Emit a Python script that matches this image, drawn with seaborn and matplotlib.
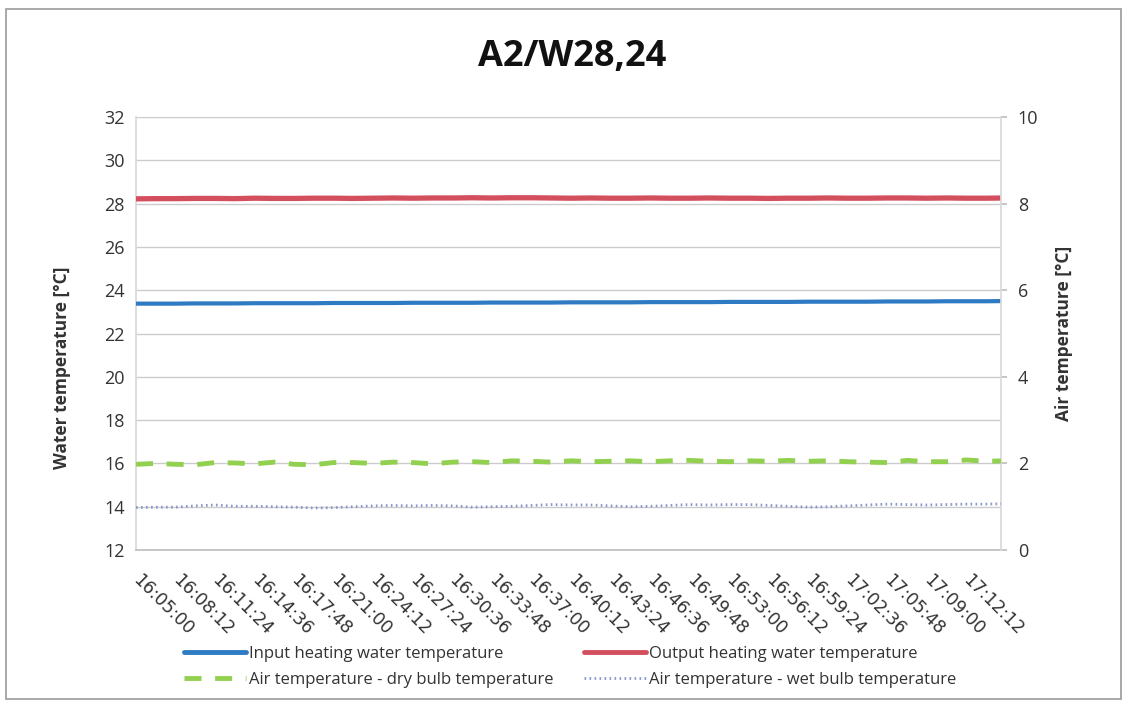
import matplotlib
matplotlib.use("Agg")
import matplotlib.pyplot as plt
import matplotlib.transforms as mtransforms
import seaborn as sns
import numpy as np
import pandas as pd
from matplotlib.lines import Line2D
from matplotlib.patches import Rectangle

sns.set_theme(style="white")
plt.rcParams['font.family'] = ['Open Sans', 'DejaVu Sans']

# ---- data ----
title = "A2/W28,24"
tick_labels = ["16:05:00", "16:08:12", "16:11:24", "16:14:36", "16:17:48", "16:21:00",
               "16:24:12", "16:27:24", "16:30:36", "16:33:48", "16:37:00", "16:40:12",
               "16:43:24", "16:46:36", "16:49:48", "16:53:00", "16:56:12", "16:59:24",
               "17:02:36", "17:05:48", "17:09:00", "17:12:12"]
sample_step_s = 96  # seconds between samples
input_water = [23.38, 23.38, 23.38, 23.39, 23.39, 23.39, 23.40, 23.40, 23.40, 23.40,
               23.41, 23.41, 23.41, 23.41, 23.42, 23.42, 23.42, 23.42, 23.43, 23.43,
               23.43, 23.43, 23.44, 23.44, 23.44, 23.44, 23.45, 23.45, 23.45, 23.45,
               23.46, 23.46, 23.46, 23.46, 23.47, 23.47, 23.47, 23.47, 23.48, 23.48,
               23.48, 23.49, 23.49, 23.49, 23.50, 23.50]
output_water = [28.22, 28.23, 28.23, 28.24, 28.24, 28.23, 28.25, 28.24, 28.24, 28.25,
                28.25, 28.24, 28.25, 28.26, 28.25, 28.26, 28.26, 28.27, 28.26, 28.27,
                28.27, 28.26, 28.25, 28.26, 28.25, 28.25, 28.26, 28.25, 28.25, 28.26,
                28.25, 28.25, 28.24, 28.25, 28.25, 28.26, 28.25, 28.25, 28.26, 28.26,
                28.25, 28.26, 28.25, 28.25, 28.26, 28.25]
air_dry = [1.98, 2.00, 1.98, 1.97, 2.02, 2.01, 1.99, 2.03, 1.98, 1.97,
           2.02, 2.02, 2.00, 2.03, 2.02, 1.99, 2.03, 2.04, 2.02, 2.06,
           2.05, 2.03, 2.06, 2.04, 2.05, 2.06, 2.04, 2.06, 2.07, 2.05,
           2.04, 2.06, 2.05, 2.07, 2.05, 2.06, 2.04, 2.03, 2.02, 2.07,
           2.04, 2.04, 2.08, 2.05, 2.06, 2.05]
air_wet = [0.98, 0.99, 0.99, 1.02, 1.04, 1.01, 1.01, 1.00, 0.99, 0.97,
           0.98, 1.00, 1.02, 1.03, 1.02, 1.03, 1.02, 0.99, 1.00, 1.01,
           1.03, 1.05, 1.04, 1.04, 1.02, 1.00, 1.01, 1.03, 1.05, 1.04,
           1.05, 1.05, 1.03, 1.01, 0.99, 1.00, 1.02, 1.04, 1.06, 1.05,
           1.04, 1.05, 1.06, 1.06, 1.07, 1.07]

n = len(input_water)
t_sec = np.arange(n) * sample_step_s
df = pd.DataFrame({"t": t_sec, "input": input_water, "output": output_water,
                   "dry": air_dry, "wet": air_wet})

c_blue = "#2e7bc4"
c_red = "#d34f5d"
c_green = "#92d050"
c_wet = "#8c98cc"
txt = "#333333"

fig = plt.figure(figsize=(11.27, 7.04), dpi=100)
fig.patch.set_facecolor("white")
ax = fig.add_axes([0.1207, 0.2187, 0.7675, 0.6151])
ax2 = ax.twinx()

sns.lineplot(data=df, x="t", y="input", ax=ax, color=c_blue, lw=3.0, zorder=3)
sns.lineplot(data=df, x="t", y="output", ax=ax, color=c_red, lw=3.8, zorder=3)
sns.lineplot(data=df, x="t", y="dry", ax=ax2, color=c_green, lw=3.5,
             dashes=False, zorder=3)
ax2.lines[-1].set_dashes([3.5, 2.8])
sns.lineplot(data=df, x="t", y="wet", ax=ax2, color=c_wet, lw=2.0, zorder=3)
ax2.lines[-1].set_linestyle((0, (0.6, 1.2)))

ax.set_ylim(12, 32)
ax.set_yticks(np.arange(12, 33, 2))
ax2.set_ylim(0, 10)
ax2.set_yticks(np.arange(0, 11, 2))
ax.set_xlim(0, 4200)
ax.set_xticks(np.arange(len(tick_labels)) * 192)
ax.tick_params(axis="x", length=0, pad=15)
ax.tick_params(axis="y", length=0, labelsize=13, labelcolor=txt, pad=8)
ax2.tick_params(axis="y", length=4, color="#bfbfbf", labelsize=13, labelcolor=txt, pad=8)
ax.set_xticklabels(tick_labels, rotation=-45, ha="left", va="top",
                   rotation_mode="anchor", fontsize=12.5, color=txt,
                   family=["DejaVu Sans"])
shift = mtransforms.ScaledTranslation(6 / 100, 0, fig.dpi_scale_trans)
for lab in ax.get_xticklabels():
    lab.set_transform(lab.get_transform() + shift)

ax.yaxis.grid(True, color="#cccccc", lw=1.0)
ax.xaxis.grid(False)
for s in ["top", "right"]:
    ax.spines[s].set_visible(False)
for s in ["top", "left", "bottom"]:
    ax2.spines[s].set_visible(False)
ax2.spines["right"].set_color("#d9d9d9")
ax.spines["left"].set_color("#d9d9d9")
ax.spines["bottom"].set_color("#bfbfbf")

ax.set_xlabel("")
ax.set_ylabel("Water temperature [°C]", fontsize=12.5, fontweight="bold", color=txt)
ax.yaxis.set_label_coords(-0.075, 0.42)
ax2.set_ylabel("Air temperature [°C]", fontsize=12.5, fontweight="bold", color=txt)
ax2.yaxis.set_label_coords(1.0625, 0.5)

fig.text(0.508, 0.919, title, ha="center", va="center", fontsize=26,
         fontweight="bold", color="#111111")

h_in = Line2D([], [], color=c_blue, lw=3.5)
h_out = Line2D([], [], color=c_red, lw=3.5)
h_dry = Line2D([], [], color=c_green, lw=3.5, dashes=[3.5, 2.8])
h_wet = Line2D([], [], color=c_wet, lw=2.0, linestyle=(0, (0.6, 1.2)))
handles = [h_in, h_dry, h_out, h_wet]
labels = ["Input heating water temperature", "Air temperature - dry bulb temperature",
          "Output heating water temperature", "Air temperature - wet bulb temperature"]
fig.legend(handles, labels, loc="center", bbox_to_anchor=(0.506, 0.053), ncol=2,
           frameon=False, fontsize=12, handlelength=3.7, handletextpad=0.2,
           columnspacing=1.85, labelspacing=0.6, labelcolor=txt)

fig.add_artist(Rectangle((0.005, 0.007), 0.99, 0.98, transform=fig.transFigure,
                         fill=False, edgecolor="#9a9a9a", lw=1.2))

fig.savefig("out.png", dpi=100)
